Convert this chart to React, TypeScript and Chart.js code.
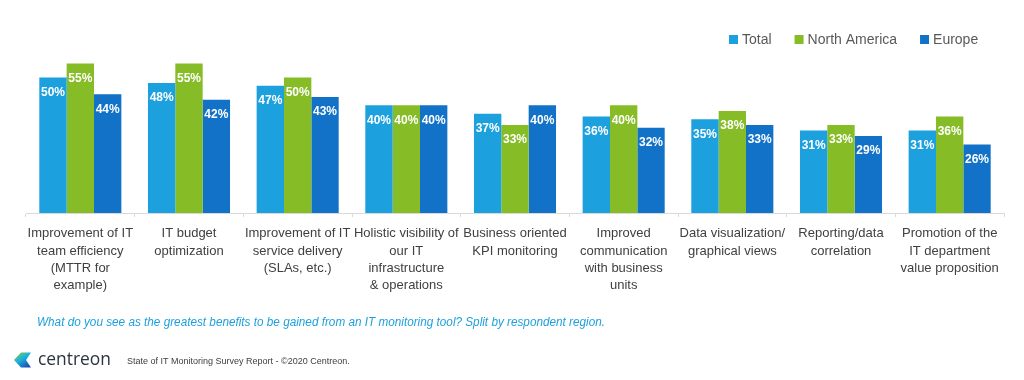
import React, { useEffect, useRef } from "react";
import { Chart, registerables } from "chart.js";

Chart.register(...registerables);

const categories: string[][] = [
  ["Improvement of IT", "team efficiency", "(MTTR for", "example)"],
  ["IT budget", "optimization"],
  ["Improvement of IT", "service delivery", "(SLAs, etc.)"],
  ["Holistic visibility of", "our IT", "infrastructure", "& operations"],
  ["Business oriented", "KPI monitoring"],
  ["Improved", "communication", "with business", "units"],
  ["Data visualization/", "graphical views"],
  ["Reporting/data", "correlation"],
  ["Promotion of the", "IT department", "value proposition"],
];

const seriesNames = ["Total", "North America", "Europe"];
const totalValues = [50, 48, 47, 40, 37, 36, 35, 31, 31];
const northAmericaValues = [55, 55, 50, 40, 33, 40, 38, 33, 36];
const europeValues = [44, 42, 43, 40, 40, 32, 33, 29, 26];
const seriesColors = ["#1ca1de", "#86bc25", "#1272c8"];

const captionText =
  "What do you see as the greatest benefits to be gained from an IT monitoring tool? Split by respondent region.";
const footerText = "State of IT Monitoring Survey Report - \u00a92020 Centreon.";
const brandText = "centreon";

const FONT = "'Liberation Sans', Arial, sans-serif";

const decorPlugin = {
  id: "decor",
  afterDatasetsDraw(chart: any) {
    const ctx = chart.ctx as CanvasRenderingContext2D;
    ctx.save();
    ctx.fillStyle = "#ffffff";
    ctx.font = `bold 12px ${FONT}`;
    ctx.textAlign = "center";
    ctx.textBaseline = "middle";
    chart.data.datasets.forEach((ds: any, i: number) => {
      const meta = chart.getDatasetMeta(i);
      meta.data.forEach((el: any, j: number) => {
        ctx.fillText(`${ds.data[j]}%`, el.x, el.y + 15);
      });
    });
    ctx.restore();
  },
  afterDraw(chart: any) {
    const ctx = chart.ctx as CanvasRenderingContext2D;
    ctx.save();
    // Legend
    ctx.font = `14px ${FONT}`;
    ctx.textBaseline = "middle";
    ctx.textAlign = "left";
    let x = 729;
    const ly = 40;
    chart.data.datasets.forEach((ds: any) => {
      ctx.fillStyle = ds.backgroundColor;
      ctx.fillRect(x, ly - 5, 9, 9);
      ctx.fillStyle = "#595959";
      ctx.fillText(ds.label, x + 13, ly);
      x += 13 + ctx.measureText(ds.label).width + 23;
    });
    // Caption
    ctx.font = `italic 12px ${FONT}`;
    ctx.fillStyle = "#1ea0dc";
    ctx.fillText(captionText, 37, 323, 568);
    // Logo
    const g = ctx.createLinearGradient(16, 353, 26, 368);
    g.addColorStop(0, "#8cc63f");
    g.addColorStop(0.45, "#19b3e0");
    g.addColorStop(1, "#1e4fb4");
    ctx.fillStyle = g;
    ctx.beginPath();
    ctx.moveTo(21, 352.5);
    ctx.lineTo(31, 352.5);
    ctx.lineTo(26, 360);
    ctx.lineTo(31, 367.5);
    ctx.lineTo(21, 367.5);
    ctx.lineTo(14, 360);
    ctx.closePath();
    ctx.fill();
    // Brand
    ctx.font = `500 18px 'Open Sans', ${FONT}`;
    ctx.fillStyle = "#2b3440";
    ctx.fillText(brandText, 38, 360, 73);
    ctx.font = `9px ${FONT}`;
    ctx.fillStyle = "#404040";
    ctx.fillText(footerText, 127, 362, 228);
    ctx.restore();
  },
};

export default function App() {
  const ref = useRef<HTMLCanvasElement | null>(null);
  useEffect(() => {
    document.body.style.margin = "0";
    if (!ref.current) return;
    const values = [totalValues, northAmericaValues, europeValues];
    const chart = new Chart(ref.current, {
      type: "bar",
      data: {
        labels: categories,
        datasets: seriesNames.map((name, i) => ({
          label: name,
          data: values[i],
          backgroundColor: seriesColors[i],
          borderWidth: 0,
          categoryPercentage: 0.755,
          barPercentage: 1.0,
        })),
      },
      options: {
        responsive: false,
        animation: false,
        layout: { padding: { top: 51, left: 26, right: 20, bottom: 0 } },
        plugins: {
          legend: { display: false },
          tooltip: { enabled: false },
        },
        scales: {
          x: {
            afterFit(scale: any) {
              scale.height = 167;
            },
            grid: {
              display: true,
              drawOnChartArea: false,
              drawTicks: true,
              tickLength: 4,
              color: "#d9d9d9",
              offset: true,
            },
            border: { display: true, color: "#d9d9d9" },
            ticks: {
              autoSkip: false,
              maxRotation: 0,
              minRotation: 0,
              padding: 8,
              color: "#404040",
              font: { family: FONT, size: 13, lineHeight: 1.33 },
            },
          },
          y: {
            display: false,
            min: 1.4,
            max: 59.5,
          },
        },
      },
      plugins: [decorPlugin],
    });
    return () => chart.destroy();
  }, []);
  return <canvas ref={ref} width={1024} height={380} style={{ display: "block" }} />;
}
